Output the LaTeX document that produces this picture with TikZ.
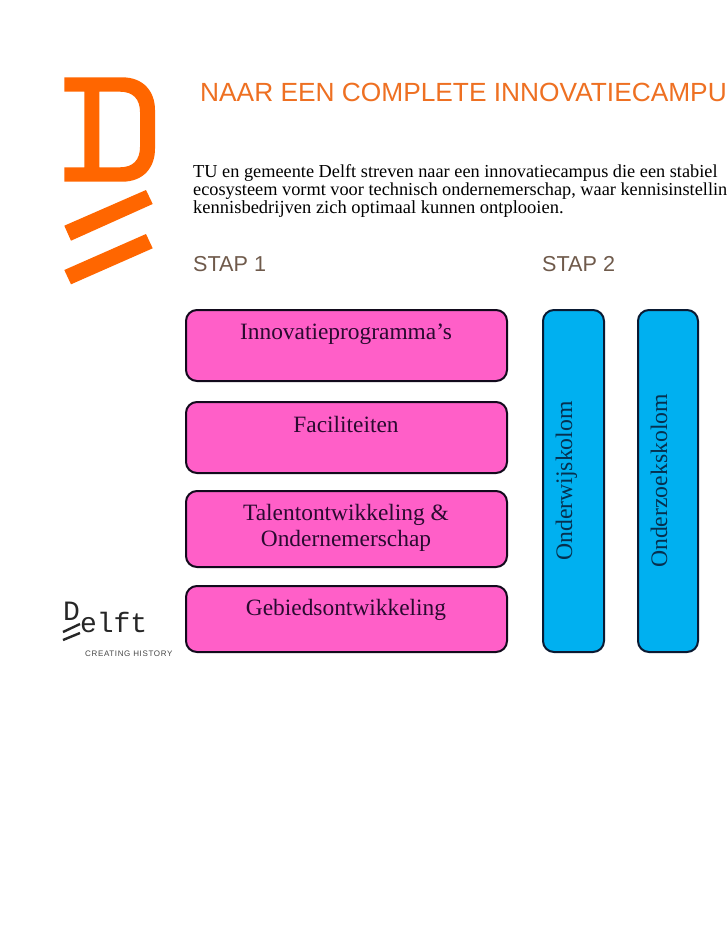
\documentclass[tikz,border=0pt]{standalone}
\usepackage{fontspec}
\setmainfont{Liberation Serif}
\newfontfamily\headfont{Liberation Sans}
\newfontfamily\logofont{Liberation Mono}
\newfontfamily\tagfont[LetterSpace=8]{Liberation Sans}
\definecolor{orangeD}{HTML}{FF6600}
\definecolor{titleor}{HTML}{EE7022}
\definecolor{stapcol}{HTML}{6F5A4B}
\definecolor{pinkbox}{HTML}{FF5FC8}
\definecolor{bluebox}{HTML}{00B0F0}
\definecolor{edgecol}{HTML}{120A1C}
\definecolor{blueedge}{HTML}{0A1A33}
\definecolor{labelcol}{HTML}{2A0A30}
\definecolor{bluetext}{HTML}{06304F}
\tikzset{
  pinkrect/.style={draw=edgecol,line width=2pt,fill=pinkbox,rounded corners=11pt,inner sep=0pt},
  bluerect/.style={draw=blueedge,line width=2pt,fill=bluebox,rounded corners=11pt,inner sep=0pt},
  boxlabel/.style={text=labelcol,font=\fontsize{23.4}{26}\selectfont,anchor=base,inner sep=0pt},
  collabel/.style={text=bluetext,font=\fontsize{23.7}{26}\selectfont,rotate=90,anchor=base,inner sep=0pt},
  steplabel/.style={text=stapcol,font=\headfont\fontsize{21.6}{26}\selectfont,anchor=base west,inner sep=0pt},
  bodyline/.style={anchor=base west,inner sep=0pt,text=black},
  logostroke/.style={draw=black!85,line width=2.4pt,line cap=butt}
}
\begin{document}
\begin{tikzpicture}[x=1pt,y=-1pt]
\useasboundingbox (0,0) rectangle (728,943);
\fill[white] (0,0) rectangle (728,943);
% big logo
\fill[orangeD,even odd rule]
  (64.3,77.3) -- (122,77.3) .. controls (144,77.3) and (155,92) .. (155,110) -- (155,148.7)
  .. controls (155,167) and (144,181.7) .. (122,181.7) -- (64.3,181.7) -- (64.3,167.3) -- (84.3,167.3) -- (84.3,91.7) -- (64.3,91.7) -- cycle
  (99.3,91.7) -- (99.3,167.3) -- (120,167.3) .. controls (133,167.3) and (140,160) .. (140,147) -- (140,112)
  .. controls (140,99) and (133,91.7) .. (120,91.7) -- cycle;
\fill[orangeD] (146,190) -- (152.7,204) -- (71,240.7) -- (64.3,225.7) -- cycle;
\fill[orangeD] (146,234) -- (152.7,248.3) -- (71,284.3) -- (64.3,270) -- cycle;
% small logo
\node[anchor=base west,inner sep=0pt,font=\logofont\fontsize{28}{30}\selectfont,text=black!85] (logoword) at (63,632) {\raisebox{12pt}{D}elft};
\draw[logostroke] (63,632) -- (80,624);
\draw[logostroke] (63,640) -- (80,633);
\node[anchor=base west,inner sep=0pt,font=\tagfont\fontsize{8}{8}\selectfont,text=black!72] (logotag) at (85,656) {CREATING HISTORY};
% header text
\node[anchor=base west,inner sep=0pt,text=titleor,font=\headfont\fontsize{26.3}{30}\selectfont] (title) at (200,101) {NAAR EEN COMPLETE INNOVATIECAMPU};
\node[bodyline,font=\fontsize{18.3}{21}\selectfont] (l1) at (193,177) {TU en gemeente Delft streven naar een innovatiecampus die een stabiel};
\node[bodyline,font=\fontsize{18.3}{21}\selectfont] (l2) at (193,195) {ecosysteem vormt voor technisch ondernemerschap, waar kennisinstellin};
\node[bodyline,font=\fontsize{18.5}{21}\selectfont] (l3) at (193,213) {kennisbedrijven zich optimaal kunnen ontplooien.};
\node[steplabel] (stap1) at (193,271) {STAP 1};
\node[steplabel] (stap2) at (542,271) {STAP 2};
% pink boxes
\node[pinkrect,minimum width=321pt,minimum height=71pt] (b1) at (346.5,345.5) {};
\node[pinkrect,minimum width=321pt,minimum height=71pt] (b2) at (346.5,437.5) {};
\node[pinkrect,minimum width=321pt,minimum height=76pt] (b3) at (346.5,529) {};
\node[pinkrect,minimum width=321pt,minimum height=66pt] (b4) at (346.5,619) {};
\node[boxlabel] (t1) at (346,339) {Innovatieprogramma’s};
\node[boxlabel] (t2) at (346,432) {Faciliteiten};
\node[boxlabel] (t3a) at (346,520) {Talentontwikkeling \&};
\node[boxlabel] (t3b) at (346,546) {Ondernemerschap};
\node[boxlabel] (t4) at (346,615) {Gebiedsontwikkeling};
% blue columns
\node[bluerect,minimum width=61pt,minimum height=342pt] (c1) at (573.5,481) {};
\node[bluerect,minimum width=60pt,minimum height=342pt] (c2) at (668,481) {};
\node[collabel] (t5) at (572,481) {Onderwijskolom};
\node[collabel] (t6) at (667,481) {Onderzoekskolom};
\end{tikzpicture}
\end{document}
